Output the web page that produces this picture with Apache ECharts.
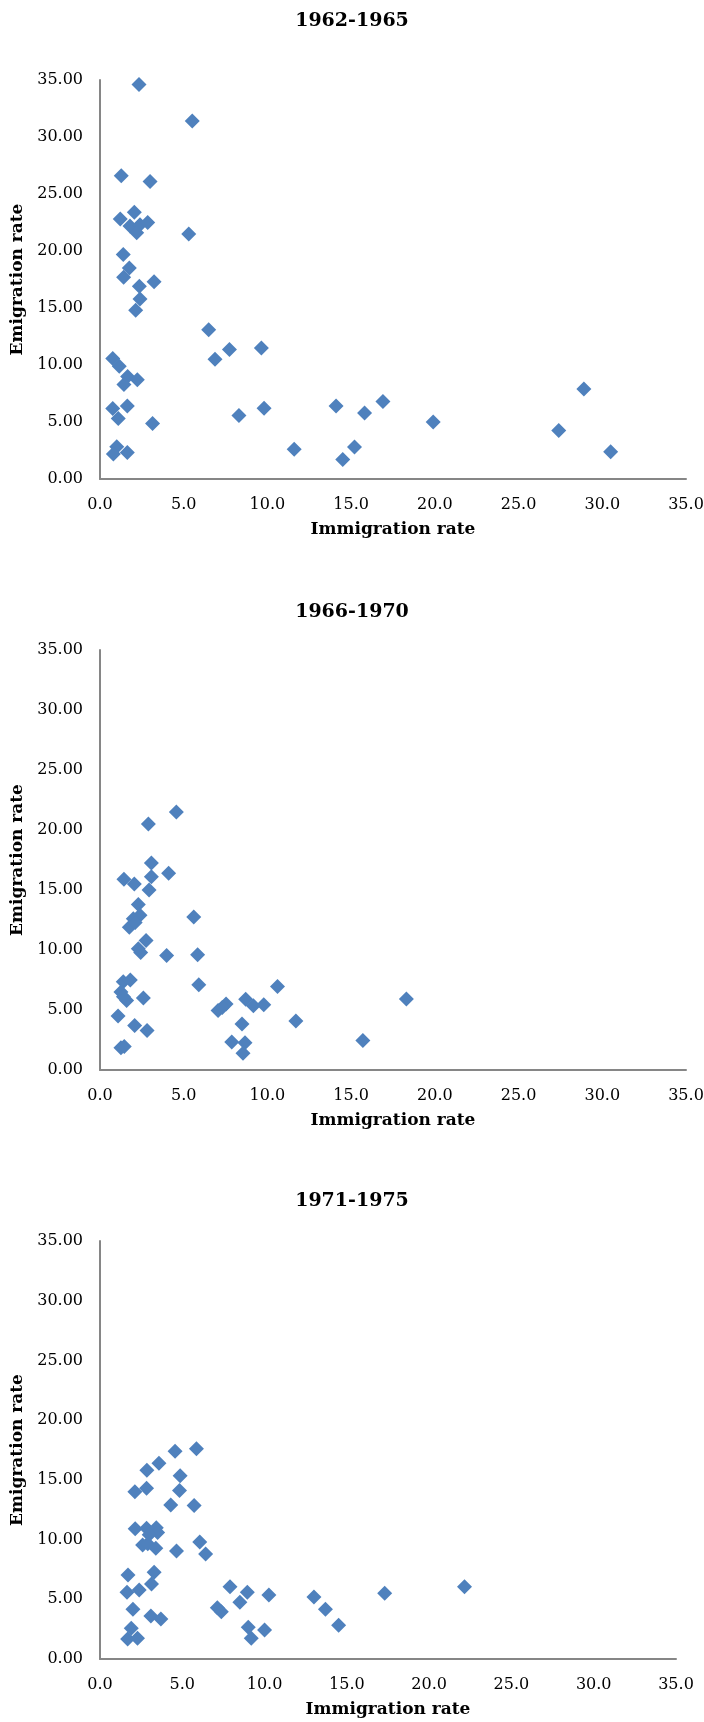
<!DOCTYPE html>
<html>
<head>
<meta charset="utf-8">
<title>Immigration vs Emigration</title>
<script src="https://cdn.jsdelivr.net/npm/echarts@6/dist/echarts.min.js"></script>
<style>
  html, body { margin: 0; padding: 0; background: #fff; }
  #chart { width: 704px; height: 1722px; }
</style>
</head>
<body>
<div id="chart"></div>
<script>
// periods (one scatter panel each)
const periods = ['1962-1965', '1966-1970', '1971-1975'];

// 1962-1965
const imm1 = [2.33, 5.51, 1.27, 2.99, 2.05, 1.21, 1.79, 2.39, 2.19, 2.85, 5.3, 1.39, 1.75, 1.41, 2.35, 3.23,
  2.39, 2.13, 6.49, 7.73, 9.64, 6.87, 0.76, 1.15, 1.65, 1.43, 2.23, 0.76, 1.63, 1.09, 3.14, 8.3,
  9.8, 1.0, 0.8, 1.63, 14.1, 15.8, 16.9, 19.9, 27.4, 28.9, 30.5, 11.6, 14.5, 15.2];
const emi1 = [34.6, 31.4, 26.6, 26.1, 23.4, 22.8, 22.2, 22.3, 21.6, 22.5, 21.5, 19.7, 18.5, 17.7, 16.9, 17.3,
  15.8, 14.8, 13.1, 11.35, 11.5, 10.5, 10.56, 9.9, 9.0, 8.3, 8.7, 6.19, 6.4, 5.3, 4.87, 5.57,
  6.2, 2.83, 2.19, 2.33, 6.4, 5.8, 6.8, 5.0, 4.25, 7.9, 2.4, 2.6, 1.7, 2.8];

// 1966-1970
const imm2 = [4.56, 2.89, 3.07, 4.1, 1.43, 2.05, 3.07, 2.93, 2.29, 2.39, 1.99, 1.75, 2.1, 5.6, 2.75, 2.29,
  2.43, 3.98, 5.83, 5.9, 10.6, 1.39, 1.81, 1.25, 1.59, 1.4, 2.59, 1.08, 2.07, 2.81, 1.25, 1.45,
  7.05, 7.53, 8.7, 9.16, 9.78, 8.48, 7.87, 8.66, 8.54, 11.7, 15.7, 18.3, 7.3];
const emi2 = [21.5, 20.5, 17.25, 16.4, 15.9, 15.5, 16.1, 15.0, 13.8, 12.9, 12.6, 11.9, 12.3, 12.75, 10.8, 10.1,
  9.8, 9.55, 9.6, 7.1, 6.95, 7.36, 7.5, 6.5, 5.8, 6.1, 6.0, 4.5, 3.7, 3.3, 1.86, 1.95,
  4.95, 5.5, 5.9, 5.36, 5.44, 3.83, 2.33, 2.28, 1.39, 4.08, 2.46, 5.92, 5.2];

// 1971-1975
const imm3 = [5.86, 4.56, 3.58, 2.85, 4.87, 2.12, 2.83, 4.83, 4.3, 5.72, 2.14, 2.83, 3.42, 3.5, 2.99, 2.59,
  2.9, 3.39, 4.65, 6.06, 6.42, 1.7, 3.29, 3.13, 1.64, 2.38, 2.0, 3.09, 3.7, 1.9, 1.68, 2.28,
  7.9, 8.95, 10.26, 8.5, 7.13, 7.37, 9.01, 10.0, 9.19, 13.0, 13.7, 14.5, 17.3, 22.15];
const emi3 = [17.6, 17.4, 16.4, 15.8, 15.35, 14.0, 14.3, 14.1, 12.9, 12.85, 10.9, 10.95, 11.0, 10.6, 10.4, 9.55,
  9.65, 9.27, 9.05, 9.8, 8.8, 7.03, 7.26, 6.28, 5.58, 5.78, 4.16, 3.6, 3.35, 2.57, 1.67, 1.73,
  6.06, 5.58, 5.36, 4.75, 4.3, 3.96, 2.65, 2.43, 1.73, 5.2, 4.17, 2.83, 5.5, 6.05];

const xs = [imm1, imm2, imm3];
const ys = [emi1, emi2, emi3];

const FONT = 'DejaVu Serif';
const BLUE = '#4F81BD';

// panel boxes in px
const panels = [
  { titleTop: 7, top: 80, bottom: 479, right: 686 },
  { titleTop: 598, top: 650, bottom: 1070, right: 686 },
  { titleTop: 1187, top: 1241, bottom: 1659, right: 676 }
];

const chart = echarts.init(document.getElementById('chart'));

const option = {
  backgroundColor: '#fff',
  animation: false,
  title: [],
  grid: [],
  xAxis: [],
  yAxis: [],
  series: []
};

panels.forEach((p, i) => {
  option.title.push({
    text: periods[i],
    left: 'center',
    top: p.titleTop,
    textStyle: { fontFamily: FONT, fontSize: 19, fontWeight: 'bold', color: '#000' }
  });
  option.grid.push({
    left: 100,
    top: p.top,
    width: p.right - 100,
    height: p.bottom - p.top,
    containLabel: false,
    outerBoundsMode: 'none'
  });
  option.xAxis.push({
    gridIndex: i,
    type: 'value',
    min: 0,
    max: 35,
    interval: 5,
    name: 'Immigration rate',
    nameLocation: 'middle',
    nameGap: 42,
    nameTextStyle: { fontFamily: FONT, fontSize: 17, fontWeight: 'bold', color: '#000' },
    axisLine: { show: true, lineStyle: { color: '#868686', width: 2 } },
    axisTick: { show: false },
    splitLine: { show: false },
    axisLabel: {
      margin: 18,
      fontFamily: FONT,
      fontSize: 16,
      color: '#000',
      formatter: v => v.toFixed(1)
    }
  });
  option.yAxis.push({
    gridIndex: i,
    type: 'value',
    min: 0,
    max: 35,
    interval: 5,
    name: 'Emigration rate',
    nameLocation: 'middle',
    nameGap: 72,
    nameTextStyle: { fontFamily: FONT, fontSize: 17, fontWeight: 'bold', color: '#000' },
    axisLine: { show: true, lineStyle: { color: '#868686', width: 2 } },
    axisTick: { show: false },
    splitLine: { show: false },
    axisLabel: {
      margin: 17,
      fontFamily: FONT,
      fontSize: 16,
      color: '#000',
      formatter: v => v.toFixed(2)
    }
  });
  option.series.push({
    type: 'scatter',
    xAxisIndex: i,
    yAxisIndex: i,
    symbol: 'diamond',
    symbolSize: 15,
    itemStyle: { color: BLUE, opacity: 1 },
    data: xs[i].map((x, k) => [x, ys[i][k]])
  });
});

chart.setOption(option);
</script>
</body>
</html>
